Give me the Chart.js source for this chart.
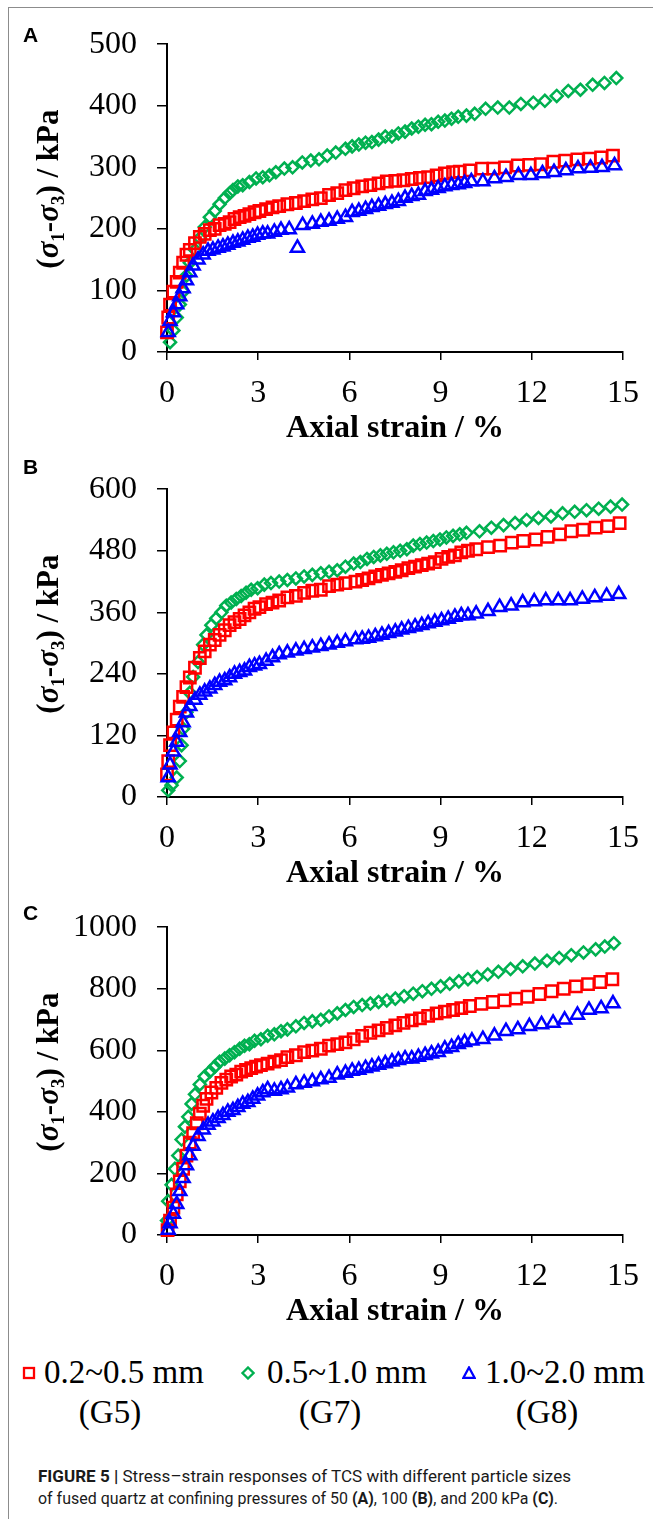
<!DOCTYPE html>
<html><head><meta charset="utf-8">
<script src="https://cdn.jsdelivr.net/npm/chart.js@4.4.1/dist/chart.umd.min.js"></script>
<style>
html,body{margin:0;padding:0;background:#fff;}
body{width:653px;height:1519px;position:relative;overflow:hidden;}
#ft{position:absolute;left:8px;top:7px;right:0;height:0;border-top:1.5px solid #8c8c8c;}
#fl{position:absolute;left:8px;top:7px;bottom:0;width:0;border-left:1.5px solid #8c8c8c;}
canvas{position:absolute;left:0;}
.pl{position:absolute;left:23px;font:bold 21px "Liberation Sans",Arial,sans-serif;line-height:21px;color:#000;}
.lg{position:absolute;font:33px "Liberation Serif","Times New Roman",serif;line-height:33px;white-space:nowrap;color:#000;}
.lgc{text-align:center;width:120px;}
.mk{position:absolute;}
.cap{position:absolute;left:38px;font:17px Roboto,"Liberation Sans",sans-serif;line-height:20px;white-space:nowrap;transform-origin:0 50%;color:#1a1a1a;}
.cap b{font-weight:bold;}
</style></head><body>
<div id="ft"></div><div id="fl"></div>
<canvas id="cA" width="653" height="447" style="top:5px"></canvas>
<canvas id="cB" width="653" height="447" style="top:450px"></canvas>
<canvas id="cC" width="653" height="447" style="top:888px"></canvas>
<div class="pl" style="top:24px">A</div>
<div class="pl" style="top:456px">B</div>
<div class="pl" style="top:902px">C</div>

<svg class="mk" style="left:22px;top:1366px" width="14" height="14"><rect x="2" y="2" width="10" height="10" fill="none" stroke="#ff0000" stroke-width="2.3"/></svg>
<div class="lg" style="left:44px;top:1356px">0.2~0.5 mm</div>
<svg class="mk" style="left:241px;top:1366px" width="14" height="14"><path d="M1.5 7 L7 1.5 L12.5 7 L7 12.5 Z" fill="none" stroke="#00b050" stroke-width="2.3"/></svg>
<div class="lg" style="left:267px;top:1356px">0.5~1.0 mm</div>
<svg class="mk" style="left:462px;top:1366px" width="14" height="14"><path d="M7 1.5 L12.6 11.8 L1.4 11.8 Z" fill="none" stroke="#0000ff" stroke-width="2.3"/></svg>
<div class="lg" style="left:485px;top:1356px">1.0~2.0 mm</div>
<div class="lg lgc" style="left:50px;top:1396px">(G5)</div>
<div class="lg lgc" style="left:270px;top:1396px">(G7)</div>
<div class="lg lgc" style="left:487px;top:1396px">(G8)</div>

<div class="cap" id="cap1" data-w="533" style="top:1466px"><b>FIGURE 5 |</b> Stress–strain responses of TCS with different particle sizes</div>
<div class="cap" id="cap2" data-w="520" style="top:1488px">of fused quartz at confining pressures of 50 <b>(A)</b>, 100 <b>(B)</b>, and 200 kPa <b>(C)</b>.</div>

<script>
// ---------- data (strain %, deviatoric stress kPa) ----------
const X_TICKS = [0, 3, 6, 9, 12, 15];
const Y_TICKS_A = [0, 100, 200, 300, 400, 500];
const Y_TICKS_B = [0, 120, 240, 360, 480, 600];
const Y_TICKS_C = [0, 200, 400, 600, 800, 1000];
const SERIES_NAMES = ['0.2~0.5 mm (G5)', '0.5~1.0 mm (G7)', '1.0~2.0 mm (G8)'];

// Panel A (50 kPa)
const A_G5_STRAIN = [0.0,0.04,0.10,0.21,0.32,0.42,0.53,0.64,0.75,0.92,1.08,1.24,1.41,1.57,1.73,1.90,2.06,2.22,2.39,2.55,2.71,2.88,3.04,3.26,3.47,3.69,3.96,4.24,4.51,4.78,5.06,5.33,5.60,5.87,6.14,6.42,6.69,6.96,7.23,7.51,7.78,8.05,8.32,8.59,8.87,9.14,9.41,9.63,9.96,10.36,10.74,11.12,11.54,11.92,12.30,12.71,13.10,13.50,13.90,14.28,14.67];
const A_G5_STRESS = [32,56,77,98,114,129,145,158,166,177,187,192,198,200,206,208,211,216,219,221,224,227,229,232,235,237,240,242,245,248,250,255,258,263,266,269,271,274,277,278,279,281,283,284,287,290,292,293,295,298,298,300,303,304,305,309,311,313,314,316,319];
const A_G7_STRAIN = [0.10,0.21,0.32,0.42,0.53,0.64,0.75,0.92,1.08,1.24,1.41,1.57,1.73,1.90,2.06,2.17,2.33,2.49,2.71,2.93,3.15,3.37,3.58,3.86,4.13,4.45,4.73,5.00,5.27,5.55,5.87,6.09,6.31,6.53,6.74,6.96,7.18,7.40,7.61,7.83,8.05,8.27,8.49,8.70,8.92,9.14,9.36,9.58,9.85,10.12,10.48,10.88,11.26,11.64,12.05,12.43,12.82,13.20,13.60,14.00,14.39,14.78];
const A_G7_STRESS = [16,35,56,77,98,124,145,166,185,203,219,229,240,250,258,263,269,271,276,282,284,287,292,298,300,308,311,313,319,324,330,334,337,340,341,345,350,350,355,358,363,366,369,370,374,376,379,382,384,387,395,397,397,403,405,408,416,424,426,434,437,445];
const A_G8_STRAIN = [0.04,0.10,0.21,0.32,0.42,0.53,0.64,0.75,0.86,1.02,1.19,1.35,1.51,1.68,1.84,2.00,2.17,2.33,2.49,2.66,2.82,2.98,3.15,3.31,3.53,3.75,4.02,4.29,4.46,4.78,5.06,5.33,5.60,5.87,6.09,6.31,6.53,6.74,6.96,7.18,7.40,7.61,7.83,8.05,8.27,8.49,8.70,8.92,9.14,9.36,9.58,9.79,10.01,10.39,10.77,11.15,11.56,11.97,12.35,12.73,13.12,13.52,13.93,14.31,14.72];
const A_G8_STRESS = [32,50,64,77,90,103,116,129,140,150,158,164,166,169,171,174,177,179,182,185,187,190,192,192,195,198,199,169,206,208,211,213,216,219,227,229,232,235,237,240,242,245,250,253,255,261,263,266,269,271,272,274,277,277,282,284,287,287,290,292,295,298,299,300,303];

// Panel B (100 kPa)
const B_G5_STRAIN = [0.0,0.04,0.10,0.21,0.32,0.42,0.53,0.64,0.75,0.92,1.08,1.24,1.41,1.57,1.73,1.90,2.06,2.22,2.39,2.55,2.71,2.88,3.04,3.26,3.47,3.69,3.96,4.24,4.51,4.78,5.06,5.33,5.60,5.87,6.20,6.42,6.63,6.85,7.07,7.29,7.51,7.72,7.94,8.16,8.38,8.59,8.81,9.03,9.25,9.47,9.68,9.90,10.17,10.56,10.96,11.34,11.72,12.13,12.52,12.92,13.30,13.69,14.10,14.50,14.89];
const B_G5_STRESS = [44,70,101,126,151,176,195,214,233,252,271,284,297,306,316,325,335,341,347,354,360,367,370,376,379,383,389,392,398,402,404,411,414,417,420,423,426,430,433,436,439,442,446,449,452,455,458,464,468,471,477,480,483,487,490,496,499,502,507,512,518,521,525,528,534];
const B_G7_STRAIN = [0.04,0.15,0.32,0.42,0.48,0.53,0.64,0.75,0.86,1.02,1.19,1.30,1.46,1.62,1.79,1.95,2.11,2.28,2.44,2.60,2.77,2.98,3.20,3.42,3.69,3.96,4.24,4.51,4.78,5.06,5.33,5.60,5.87,6.14,6.36,6.58,6.80,7.02,7.23,7.45,7.67,7.89,8.10,8.32,8.54,8.76,8.98,9.19,9.41,9.63,9.85,10.28,10.67,11.07,11.45,11.83,12.22,12.63,13.01,13.41,13.80,14.20,14.59,14.97];
const B_G7_STRESS = [13,23,38,70,101,133,165,203,234,263,297,316,335,348,360,373,379,386,392,398,404,407,414,417,420,423,426,430,433,436,439,442,449,455,458,464,468,471,474,477,480,483,490,493,496,499,502,506,509,512,515,518,525,530,534,540,544,547,553,556,559,562,566,570];
const B_G8_STRAIN = [0.04,0.10,0.21,0.32,0.42,0.53,0.64,0.75,0.92,1.08,1.24,1.41,1.57,1.73,1.90,2.06,2.22,2.39,2.55,2.71,2.88,3.04,3.26,3.47,3.69,3.96,4.24,4.51,4.78,5.06,5.33,5.60,5.87,6.20,6.42,6.63,6.85,7.07,7.29,7.51,7.72,7.94,8.16,8.38,8.59,8.81,9.03,9.25,9.47,9.68,9.90,10.17,10.56,10.94,11.32,11.70,12.08,12.46,12.87,13.26,13.66,14.07,14.46,14.86];
const B_G8_STRESS = [38,63,88,107,126,145,164,177,189,199,205,211,218,224,227,233,240,243,246,253,256,259,265,272,278,281,285,288,291,294,297,300,303,307,308,310,313,316,319,322,326,329,332,335,338,341,344,347,351,354,354,357,362,370,373,379,381,383,383,383,386,389,392,395];

// Panel C (200 kPa)
const C_G5_STRAIN = [0.02,0.10,0.21,0.32,0.42,0.53,0.64,0.75,0.86,0.98,1.08,1.19,1.30,1.46,1.62,1.79,1.95,2.11,2.28,2.44,2.60,2.77,2.93,3.09,3.31,3.53,3.75,3.96,4.24,4.51,4.78,5.06,5.33,5.60,5.87,6.14,6.42,6.69,6.96,7.23,7.51,7.78,8.05,8.32,8.59,8.87,9.14,9.41,9.68,9.96,10.34,10.72,11.10,11.48,11.86,12.25,12.65,13.05,13.45,13.85,14.25,14.65];
const C_G5_STRESS = [16,47,89,132,174,215,258,300,331,363,394,420,442,463,478,494,505,515,521,531,536,542,547,552,557,563,568,578,584,594,599,605,615,620,626,636,647,657,665,673,681,689,697,704,712,720,726,731,737,744,751,757,762,768,774,783,792,800,808,815,822,831];
const C_G7_STRAIN = [0.0,0.04,0.15,0.26,0.37,0.48,0.59,0.70,0.81,0.92,1.08,1.24,1.41,1.57,1.73,1.90,2.06,2.22,2.39,2.55,2.71,2.88,3.09,3.31,3.53,3.75,3.96,4.24,4.51,4.78,5.06,5.33,5.60,5.87,6.14,6.42,6.69,6.96,7.23,7.51,7.80,8.10,8.40,8.70,9.00,9.30,9.60,9.90,10.20,10.55,10.90,11.30,11.70,12.10,12.50,12.90,13.30,13.70,14.10,14.40,14.70];
const C_G7_STRESS = [47,110,163,215,258,310,352,384,426,457,489,515,531,547,563,573,584,594,605,615,620,631,636,647,652,662,668,678,689,694,699,710,720,731,741,747,752,757,762,768,776,784,792,800,808,816,824,831,838,846,855,864,873,882,891,900,909,918,928,937,948];
const C_G8_STRAIN = [0.04,0.10,0.21,0.32,0.42,0.53,0.64,0.75,0.86,1.02,1.19,1.35,1.51,1.68,1.84,2.00,2.17,2.33,2.49,2.66,2.82,2.98,3.15,3.31,3.53,3.75,3.96,4.24,4.51,4.78,5.06,5.33,5.60,5.87,6.09,6.31,6.53,6.74,6.96,7.18,7.40,7.61,7.83,8.05,8.27,8.49,8.70,8.92,9.14,9.36,9.58,9.79,10.03,10.39,10.77,11.15,11.54,11.92,12.32,12.70,13.08,13.50,13.88,14.28,14.67];
const C_G8_STRESS = [16,37,68,100,142,184,226,258,289,321,342,357,368,379,389,400,405,415,426,431,442,452,463,473,468,473,478,489,494,499,505,510,521,526,533,536,542,547,552,557,563,568,573,573,578,584,589,594,605,610,620,626,631,636,647,662,668,678,684,689,699,715,731,736,752];

// ---------- styling ----------
const SERIF = '"Liberation Serif","Times New Roman",serif';
const RED = '#ff0000', GREEN = '#00b050', BLUE = '#0000ff';

const yTitlePlugin = {
  id: 'yTitle',
  afterDraw(chart, args, opts) {
    const ctx = chart.ctx, ca = chart.chartArea;
    const size = opts.size;
    const big = `bold ${size}px ${SERIF}`;
    const ital = `italic bold ${size}px ${SERIF}`;
    const sub = `bold ${Math.round(size * 0.62)}px ${SERIF}`;
    const parts = [['(', big, 0], ['σ', ital, 0], ['1', sub, 0.2 * size], ['-', big, 0],
                   ['σ', ital, 0], ['3', sub, 0.2 * size], [') / kPa', big, 0]];
    ctx.save();
    let total = 0;
    parts.forEach(p => { ctx.font = p[1]; p.w = ctx.measureText(p[0]).width; total += p.w; });
    ctx.translate(opts.x, (ca.top + ca.bottom) / 2 + opts.dy);
    ctx.rotate(-Math.PI / 2);
    ctx.fillStyle = '#000'; ctx.textBaseline = 'alphabetic'; ctx.textAlign = 'left';
    let x = -total / 2;
    const base = size * 0.33;
    parts.forEach(p => { ctx.font = p[1]; ctx.fillText(p[0], x, base + p[2]); x += p.w; });
    ctx.restore();
  }
};

function series(label, xs, ys, color, style, radius) {
  return {
    label, data: xs.map((x, i) => ({ x, y: ys[i] })),
    showLine: false, pointStyle: style, pointRadius: radius, pointHoverRadius: radius,
    pointBorderColor: color, pointBackgroundColor: 'rgba(0,0,0,0)', pointBorderWidth: 2.5,
    borderColor: color, backgroundColor: 'rgba(0,0,0,0)', clip: false
  };
}

function makeChart(id, g5x, g5y, g7x, g7y, g8x, g8y, yTicks) {
  const yMax = yTicks[yTicks.length - 1];
  return new Chart(document.getElementById(id), {
    type: 'scatter',
    data: {
      datasets: [
        series(SERIES_NAMES[2], g8x, g8y, BLUE, 'triangle', 7.5),
        series(SERIES_NAMES[0], g5x, g5y, RED, 'rect', 8),
        series(SERIES_NAMES[1], g7x, g7y, GREEN, 'rectRot', 6)
      ]
    },
    options: {
      responsive: false, animation: false, devicePixelRatio: 1,
      layout: { padding: { top: 30, right: 27, bottom: 0, left: 0 } },
      plugins: { legend: { display: false }, tooltip: { enabled: false },
                 yTitle: { x: 48, dy: -9, size: 31 } },
      scales: {
        x: {
          type: 'linear', position: 'bottom', min: 0, max: 15,
          afterBuildTicks: s => { s.ticks = X_TICKS.map(v => ({ value: v })); },
          afterFit: s => { s.height = 100; },
          ticks: { color: '#000', font: { family: SERIF, size: 32 }, padding: 14, maxRotation: 0, autoSkip: false,
                   callback: v => String(v) },
          grid: { drawOnChartArea: false, drawTicks: true, tickLength: 8, color: '#000', lineWidth: 1.5 },
          border: { display: true, color: '#000', width: 2 },
          title: { display: true, text: 'Axial strain / %', color: '#000',
                   font: { family: SERIF, size: 32, weight: 'bold' }, padding: { top: 0, bottom: 4 } }
        },
        y: {
          type: 'linear', position: 'left', min: 0, max: yMax,
          afterBuildTicks: s => { s.ticks = yTicks.map(v => ({ value: v })); },
          afterFit: s => { s.width = 167; },
          ticks: { color: '#000', font: { family: SERIF, size: 32 }, padding: 20, autoSkip: false,
                   callback: v => String(v) },
          grid: { drawOnChartArea: false, drawTicks: true, tickLength: 10, color: '#000', lineWidth: 1.5 },
          border: { display: true, color: '#000', width: 2 }
        }
      }
    },
    plugins: [yTitlePlugin]
  });
}

makeChart('cA', A_G5_STRAIN, A_G5_STRESS, A_G7_STRAIN, A_G7_STRESS, A_G8_STRAIN, A_G8_STRESS, Y_TICKS_A);
makeChart('cB', B_G5_STRAIN, B_G5_STRESS, B_G7_STRAIN, B_G7_STRESS, B_G8_STRAIN, B_G8_STRESS, Y_TICKS_B);
makeChart('cC', C_G5_STRAIN, C_G5_STRESS, C_G7_STRAIN, C_G7_STRESS, C_G8_STRAIN, C_G8_STRESS, Y_TICKS_C);

// fit caption lines to their measured widths
document.querySelectorAll('.cap').forEach(el => {
  const target = +el.dataset.w;
  const w = el.getBoundingClientRect().width;
  if (w > 0) el.style.transform = `scaleX(${target / w})`;
});
</script>
</body></html>
